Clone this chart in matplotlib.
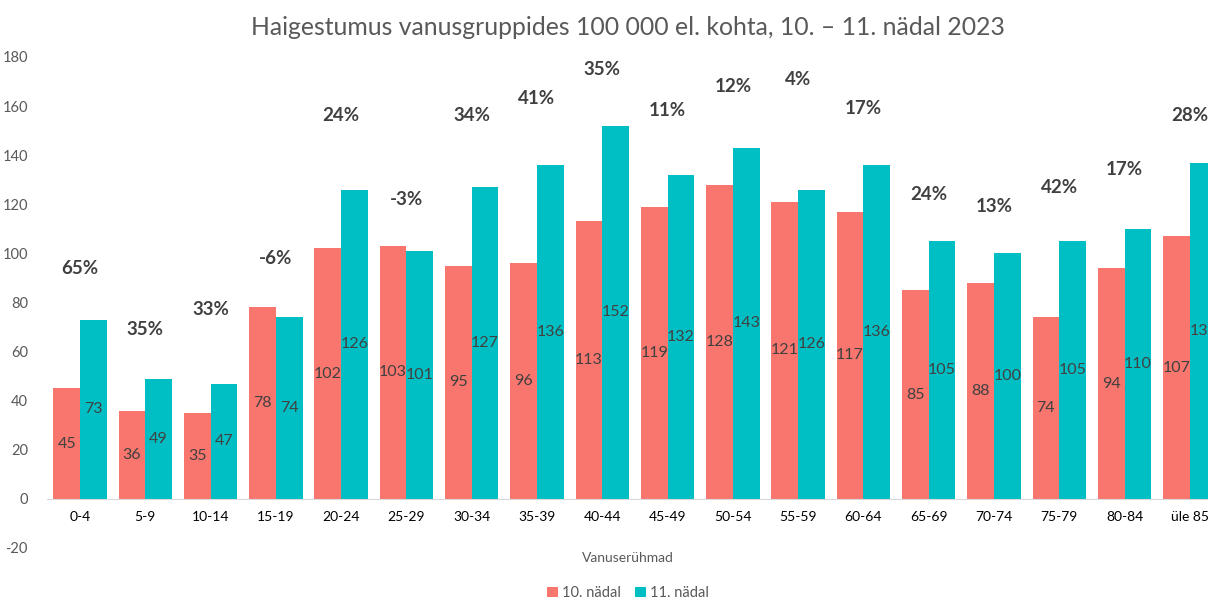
import matplotlib.pyplot as plt
import numpy as np

plt.rcParams['font.family'] = ['Lato', 'DejaVu Sans']
plt.rcParams['axes.unicode_minus'] = False

# andmed
groups = ['0-4', '5-9', '10-14', '15-19', '20-24', '25-29', '30-34', '35-39', '40-44',
          '45-49', '50-54', '55-59', '60-64', '65-69', '70-74', '75-79', '80-84', 'üle 85']
week10 = [45, 36, 35, 78, 102, 103, 95, 96, 113, 119, 128, 121, 117, 85, 88, 74, 94, 107]
week11 = [73, 49, 47, 74, 126, 101, 127, 136, 152, 132, 143, 126, 136, 105, 100, 105, 110, 137]
change = [65, 35, 33, -6, 24, -3, 34, 41, 35, 11, 12, 4, 17, 24, 13, 42, 17, 28]
# protsendisiltide kõrgus (käsitsi paigutatud nagu Excelis)
change_y = [94, 69, 77, 98, 156, 122, 156, 163, 175, 158, 168, 171, 159, 124, 119, 127, 134, 156]

red = '#F8766D'
teal = '#00BFC4'
txt = '#404040'
grey = '#595959'

fig = plt.figure(figsize=(12.08, 6.01), dpi=100)
ax = fig.add_axes([0.0392, 0.0882, 0.9728, 0.817])

x = np.arange(len(groups))
w = 0.41
b1 = ax.bar(x - w / 2, week10, w, color=red, label='10. nädal')
b2 = ax.bar(x + w / 2, week11, w, color=teal, label='11. nädal')
ax.bar_label(b1, label_type='center', fontsize=11.5, color=txt)
ax.bar_label(b2, label_type='center', fontsize=11.5, color=txt)

for xi, p, py in zip(x, change, change_y):
    ax.text(xi, py, f'{p}%', ha='center', va='center', fontsize=13.5,
            fontweight='bold', color=txt)

ax.set_xlim(-0.5, len(groups) - 0.5)
ax.set_ylim(-20, 180)
ax.set_yticks(range(-20, 181, 20))
ax.set_xticks(x)
ax.set_xticklabels(groups, fontsize=8, color=grey)
ax.tick_params(axis='y', length=0, labelsize=10.5, labelcolor=grey, pad=14)
ax.tick_params(axis='x', length=0, pad=9)

for s in ['top', 'right', 'left']:
    ax.spines[s].set_visible(False)
ax.spines['bottom'].set_position(('data', 0))
ax.spines['bottom'].set_color('#D9D9D9')

fig.text(0.52, 0.955, 'Haigestumus vanusgruppides 100 000 el. kohta, 10. – 11. nädal 2023',
         ha='center', va='center', fontsize=17.8, color=grey)
fig.text(0.52, 0.072, 'Vanuserühmad', ha='center', va='center', fontsize=10, color=grey)

leg = fig.legend(handles=[b1, b2], loc='center', bbox_to_anchor=(0.52, 0.013),
                 ncol=2, frameon=False, fontsize=10.5, handlelength=0.7,
                 handleheight=0.7, handletextpad=0.3, columnspacing=1.0)
for t in leg.get_texts():
    t.set_color(grey)

fig.savefig('out.png', dpi=100)
